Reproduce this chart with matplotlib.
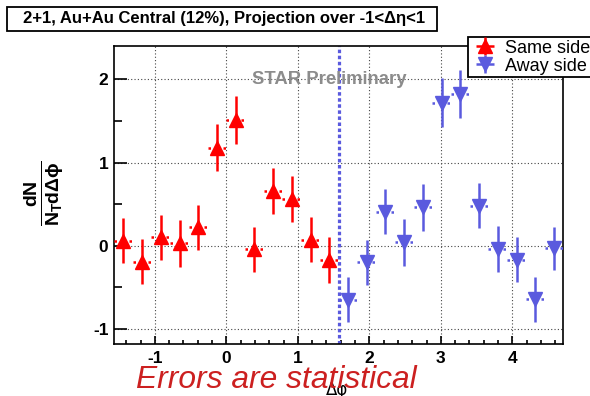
import matplotlib
matplotlib.use("Agg")
import matplotlib.pyplot as plt
from matplotlib.patches import Rectangle
from matplotlib.ticker import MultipleLocator

plt.rcParams["font.family"] = ["Liberation Sans", "DejaVu Sans"]
plt.rcParams["axes.unicode_minus"] = False
plt.rcParams["mathtext.fontset"] = "custom"
plt.rcParams["mathtext.rm"] = "Liberation Sans:bold"
plt.rcParams["mathtext.it"] = "Liberation Sans:bold"
plt.rcParams["mathtext.bf"] = "Liberation Sans:bold"

# Delta-phi bin centres (rad), bin half width pi/24
same_x = [-1.440, -1.178, -0.916, -0.654, -0.393, -0.131,
          0.131, 0.393, 0.654, 0.916, 1.178, 1.440]
away_x = [1.702, 1.963, 2.225, 2.487, 2.749, 3.011,
          3.272, 3.534, 3.796, 4.058, 4.320, 4.581]
bin_half = 0.131

same_y = [0.06, -0.19, 0.10, 0.03, 0.22, 1.18, 1.51, -0.04, 0.66, 0.56, 0.07, -0.17]
same_err = [0.27, 0.27, 0.27, 0.28, 0.27, 0.28, 0.29, 0.27, 0.28, 0.28, 0.27, 0.28]
away_y = [-0.65, -0.20, 0.41, 0.04, 0.46, 1.72, 1.82, 0.48, -0.04, -0.17, -0.64, -0.03]
away_err = [0.27, 0.27, 0.27, 0.28, 0.28, 0.29, 0.29, 0.27, 0.28, 0.27, 0.27, 0.26]

red = "#ff0000"
blue = "#5a5ade"

fig = plt.figure(figsize=(5.9, 3.96), dpi=100)
ax = fig.add_axes([0.1932, 0.1313, 0.7616, 0.7525])

same = ax.errorbar(same_x, same_y, yerr=same_err, xerr=bin_half, fmt="^",
                   color=red, ms=10, elinewidth=1.8, capsize=0, zorder=3)
away = ax.errorbar(away_x, away_y, yerr=away_err, xerr=bin_half, fmt="v",
                   color=blue, ms=10, elinewidth=1.8, capsize=0, zorder=3)

ax.axvline(1.5708, color=blue, lw=2.3, ls=(0, (1.1, 0.8)), zorder=2)

ax.set_xlim(-1.5708, 4.7124)
ax.set_ylim(-1.18, 2.4)
ax.xaxis.set_major_locator(MultipleLocator(1))
ax.xaxis.set_minor_locator(MultipleLocator(0.2))
ax.yaxis.set_major_locator(MultipleLocator(1))
ax.yaxis.set_minor_locator(MultipleLocator(0.5))
ax.grid(True, which="major", color="#444444", lw=0.8, ls=(0, (1, 2)))
ax.tick_params(which="both", direction="in", top=False, right=False, width=1.2,
               labelsize=12.5)
ax.tick_params(axis="y", which="major", length=9.5, pad=4)
ax.tick_params(axis="y", which="minor", length=5.5)
ax.tick_params(axis="x", which="major", length=5.5, pad=5)
ax.tick_params(axis="x", which="minor", length=3)
for lab in ax.get_xticklabels() + ax.get_yticklabels():
    lab.set_fontweight("bold")
for sp in ax.spines.values():
    sp.set_linewidth(1.2)

ax.text(0.356, 2.0, "STAR Preliminary", color="#8c8c8c", fontsize=13.3,
        fontweight="bold", va="center", ha="left")

# legend is built while the x-error lines are still solid
leg = fig.legend([same, away], ["Same side", "Away side"], loc="upper left",
                 bbox_to_anchor=(468 / 590, 1 - 37 / 396), fontsize=13,
                 frameon=True, fancybox=False, framealpha=1, edgecolor="black",
                 borderpad=0.15, labelspacing=0.05, handlelength=1.6,
                 handletextpad=0.3, borderaxespad=0)
leg.get_frame().set_linewidth(1.3)
for cont in (same, away):
    cont[2][0].set_linestyle((0, (1, 2)))

fig.patches.append(Rectangle((7 / 590, 1 - 31 / 396), 430 / 590, 24 / 396,
                             transform=fig.transFigure, facecolor="white",
                             edgecolor="black", lw=1.3))
fig.text(224 / 590, 1 - 19 / 396,
         "2+1, Au+Au Central (12%), Projection over -1<\u0394\u03b7<1",
         fontsize=12, fontweight="bold", ha="center", va="center")

fig.text(44 / 590, 1 - 193 / 396, r"$\frac{dN}{N_{T}d\Delta\phi}$",
         rotation=90, fontsize=20, ha="center", va="center")
fig.text(337 / 590, 1 - 390 / 396, "\u0394\u03c6", fontsize=12,
         ha="center", va="center", family=["DejaVu Sans"])
fig.text(136 / 590, 8 / 396, "Errors are statistical", color="#cc2020",
         fontsize=22.9, style="italic", ha="left", va="baseline")

fig.savefig("out.png", dpi=100)
